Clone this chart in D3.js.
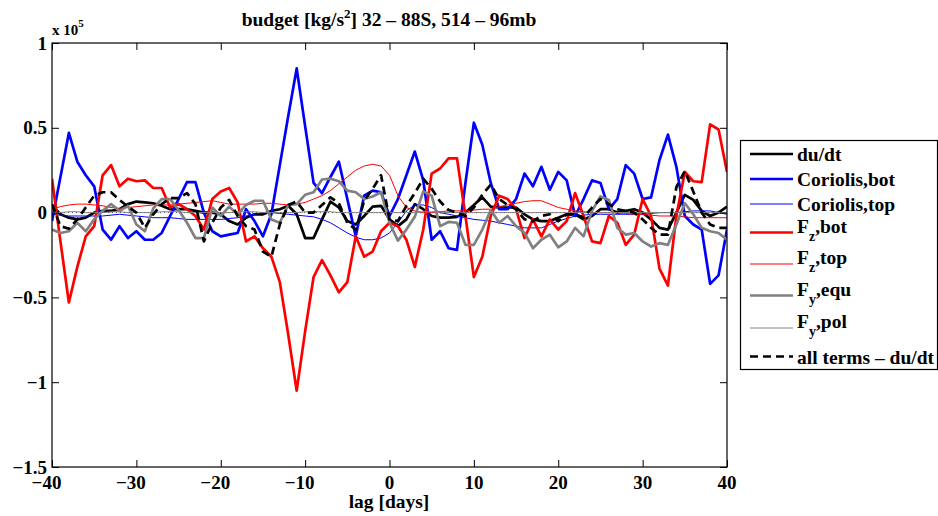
<!DOCTYPE html>
<html><head><meta charset="utf-8">
<script src="https://cdn.jsdelivr.net/npm/d3@7"></script>
<style>body{margin:0;background:#fff}svg{display:block}text{font-family:"Liberation Serif","Times New Roman",serif;font-weight:bold;fill:#000}</style>
</head><body>
<svg id="c" width="938" height="516" font-family="Liberation Serif, serif"></svg>
<script>
const lags = d3.range(-40, 41);
const xTicks = [-40,-30,-20,-10,0,10,20,30,40];
const yTicks = [1,0.5,0,-0.5,-1,-1.5];
const titleText = "budget [kg/s";
const dudt = [0.04,-0.01,-0.03,-0.04,-0.03,0.0,0.01,0.01,0.02,0.05,0.065,0.06,0.055,0.04,0.02,0.02,0.02,0.01,0.0,0.0,-0.01,-0.05,-0.07,-0.03,-0.01,-0.01,0.01,0.02,0.04,-0.01,-0.15,-0.15,-0.04,0.065,0.03,-0.05,-0.07,-0.02,0.035,0.04,-0.04,-0.08,-0.04,0.05,0.02,-0.02,-0.03,-0.03,-0.025,0.0,0.045,0.09,0.035,0.03,0.03,0.03,-0.01,-0.04,-0.05,-0.05,-0.03,-0.01,-0.01,-0.04,-0.02,0.02,0.02,0.0,0.01,0.02,0.0,-0.04,-0.09,-0.10,0.0,0.105,0.075,0.01,-0.02,0.0,0.035];
const corBot = [-0.05,0.21,0.47,0.30,0.22,0.155,-0.10,-0.16,-0.08,-0.15,-0.11,-0.16,-0.16,-0.12,-0.02,0.08,0.18,0.18,0.0,-0.11,-0.14,-0.13,-0.12,0.02,-0.05,-0.14,-0.01,0.28,0.57,0.85,0.51,0.175,0.115,0.21,0.30,0.08,-0.14,0.10,0.13,0.12,-0.02,0.08,0.22,0.36,0.19,-0.16,-0.11,-0.21,-0.22,0.175,0.53,0.40,0.175,0.02,0.02,0.08,0.23,0.155,0.27,0.135,0.24,0.19,-0.02,0.08,0.19,0.175,0.02,0.08,0.28,0.23,0.08,0.09,0.31,0.46,0.27,-0.02,-0.07,-0.10,-0.42,-0.37,-0.10];
const corTop = [-0.01,-0.015,-0.02,-0.02,-0.02,-0.02,-0.02,-0.015,-0.01,-0.015,-0.02,-0.025,-0.03,-0.03,-0.03,-0.035,-0.04,-0.04,-0.04,-0.04,-0.04,-0.035,-0.03,-0.02,-0.01,0.0,0.0,-0.005,-0.01,-0.015,-0.02,-0.025,-0.04,-0.06,-0.09,-0.12,-0.145,-0.16,-0.16,-0.15,-0.12,-0.06,0.01,0.045,0.045,0.03,0.0,-0.01,-0.02,-0.03,-0.04,-0.045,-0.05,-0.06,-0.07,-0.08,-0.09,-0.09,-0.09,-0.07,-0.05,-0.035,-0.02,-0.015,-0.01,-0.01,-0.01,-0.01,-0.01,-0.01,-0.01,-0.005,0.0,0.0,0.0,0.005,0.01,0.01,0.01,0.0,-0.01];
const fzBot = [0.20,-0.17,-0.53,-0.32,-0.14,-0.08,0.22,0.28,0.155,0.20,0.185,0.19,0.145,0.145,0.03,0.05,0.02,-0.02,-0.10,0.08,0.125,0.145,0.06,-0.17,-0.14,-0.21,-0.26,-0.41,-0.72,-1.05,-0.70,-0.38,-0.28,-0.37,-0.47,-0.41,-0.14,-0.26,-0.23,-0.11,-0.06,-0.08,-0.16,-0.32,-0.10,0.23,0.26,0.32,0.32,-0.02,-0.38,-0.26,-0.02,0.10,0.08,0.02,-0.15,-0.04,-0.14,-0.04,-0.10,-0.05,0.115,-0.02,-0.17,-0.18,-0.02,-0.06,-0.19,-0.13,0.08,-0.02,-0.33,-0.43,-0.02,0.24,0.185,0.18,0.52,0.49,0.24];
const fzTop = [0.02,0.035,0.045,0.05,0.05,0.045,0.04,0.03,0.025,0.03,0.035,0.04,0.045,0.045,0.045,0.05,0.055,0.06,0.065,0.07,0.06,0.05,0.05,0.05,0.05,0.055,0.055,0.05,0.045,0.05,0.06,0.08,0.10,0.13,0.17,0.21,0.25,0.275,0.285,0.275,0.22,0.10,0.03,0.01,0.0,0.0,0.005,0.01,0.01,0.01,0.015,0.02,0.02,0.035,0.045,0.055,0.065,0.07,0.07,0.05,0.03,0.02,0.01,0.005,0.0,0.0,0.0,0.0,-0.005,-0.01,-0.01,-0.015,-0.02,-0.02,-0.02,-0.025,-0.03,-0.03,-0.03,-0.03,-0.03];
const fyEqu = [-0.10,-0.12,-0.11,-0.06,-0.11,-0.04,0.01,0.05,0.01,0.04,-0.07,-0.11,0.025,0.08,0.08,0.015,-0.06,-0.15,-0.15,0.03,-0.02,0.035,-0.01,0.045,0.07,0.07,-0.04,-0.06,0.045,0.05,0.105,0.12,0.195,0.2,0.185,0.13,0.12,0.08,0.095,0.12,-0.06,-0.165,-0.10,-0.025,0.125,0.10,-0.08,-0.055,-0.06,-0.19,-0.19,-0.10,0.015,-0.06,-0.02,-0.08,-0.12,-0.21,-0.16,-0.13,-0.205,-0.17,-0.09,-0.14,0.01,0.095,0.075,-0.09,-0.13,-0.12,-0.17,-0.20,-0.18,-0.19,-0.07,0.055,-0.01,-0.09,-0.11,-0.12,-0.16];
const fyPol = [0.0,0.0,0.005,0.005,0.0,0.0,0.0,0.005,0.005,0.0,0.0,0.0,0.0,0.005,0.005,0.005,0.0,0.0,0.0,0.0,0.0,0.0,0.005,0.005,0.005,0.0,0.0,0.0,0.0,0.0,0.005,0.005,0.005,0.005,0.0,0.0,0.0,0.0,0.0,0.0,0.0,0.0,0.0,0.0,0.005,0.005,0.005,0.0,0.0,0.0,0.0,0.0,0.0,0.0,0.0,0.0,0.0,0.0,0.0,0.0,0.0,0.0,0.0,0.0,0.0,0.0,0.0,0.0,0.0,0.0,0.0,0.0,0.0,0.0,0.0,0.0,0.0,0.0,0.0,0.0,0.0];
const allTerms = [0.05,-0.08,-0.095,-0.04,0.03,0.10,0.12,0.12,0.075,0.035,0.0,-0.09,-0.01,0.05,0.085,0.085,0.115,0.05,-0.17,-0.06,0.03,0.075,-0.02,-0.08,-0.10,-0.23,-0.26,-0.07,0.045,0.065,0.0,0.0,0.045,0.09,0.055,-0.06,-0.10,0.07,0.14,0.22,-0.04,-0.05,0.04,0.115,0.2,0.14,0.065,0.015,0.0,-0.02,0.03,0.105,0.165,0.08,0.045,0.02,-0.04,-0.05,-0.02,-0.01,-0.05,-0.01,-0.01,-0.03,0.03,0.08,0.05,0.02,0.01,0.0,-0.04,-0.09,-0.13,-0.13,0.15,0.245,0.125,0.0,-0.07,-0.09,-0.09];

const series = [
  {name:"du/dt", sub:null, rest:null, values:dudt, color:"#000", w:2.7, dash:null},
  {name:"Coriolis,bot", sub:null, rest:null, values:corBot, color:"#0000ff", w:2.7, dash:null},
  {name:"Coriolis,top", sub:null, rest:null, values:corTop, color:"#0000ff", w:1, dash:null},
  {name:"F", sub:"z", rest:",bot", values:fzBot, color:"#ff0000", w:2.7, dash:null},
  {name:"F", sub:"z", rest:",top", values:fzTop, color:"#ff0000", w:1, dash:null},
  {name:"F", sub:"y", rest:",equ", values:fyEqu, color:"#808080", w:2.7, dash:null},
  {name:"F", sub:"y", rest:",pol", values:fyPol, color:"#808080", w:1, dash:null},
  {name:"all terms \u2013 du/dt", sub:null, rest:null, values:allTerms, color:"#000", w:2.7, dash:"8,5"}
];

const FF = "Liberation Serif, Times New Roman, serif";
const svg = d3.select("#c");
const L=52, R=727, T=43, B=467;
const x = d3.scaleLinear().domain([-40,40]).range([L,R]);
const y = d3.scaleLinear().domain([-1.5,1]).range([B,T]);

svg.append("defs").append("clipPath").attr("id","clip").append("rect")
  .attr("x",L).attr("y",T).attr("width",R-L).attr("height",B-T);

const fmt = v => (v<0?"\u2212":"") + String(Math.abs(v));

// zero reference (dotted)
svg.append("line").attr("x1",L).attr("x2",R).attr("y1",y(0)).attr("y2",y(0))
  .attr("stroke","#000").attr("stroke-width",0.7).attr("stroke-dasharray","1,3");

const g = svg.append("g").attr("clip-path","url(#clip)");
const line = d3.line().x((d,i)=>x(lags[i])).y(d=>y(d));
series.forEach(s=>{
  g.append("path").attr("d",line(s.values)).attr("fill","none")
   .attr("stroke",s.color).attr("stroke-width",s.w)
   .attr("stroke-linejoin","round")
   .attr("stroke-dasharray",s.dash);
});

// axes (MATLAB box style, inward ticks)
const tl=7;
svg.append("g").attr("transform",`translate(0,${B})`)
  .call(d3.axisBottom(x).tickValues(xTicks).tickSize(-tl).tickFormat(""))
  .call(a=>a.select(".domain").remove());
svg.append("g").attr("transform",`translate(0,${T})`)
  .call(d3.axisTop(x).tickValues(xTicks).tickSize(-tl).tickFormat(""))
  .call(a=>a.select(".domain").remove());
svg.append("g").attr("transform",`translate(${L},0)`)
  .call(d3.axisLeft(y).tickValues(yTicks).tickSize(-tl).tickFormat(""))
  .call(a=>a.select(".domain").remove());
svg.append("g").attr("transform",`translate(${R},0)`)
  .call(d3.axisRight(y).tickValues(yTicks).tickSize(-tl).tickFormat(""))
  .call(a=>a.select(".domain").remove());
svg.selectAll(".tick line").attr("stroke","#000").attr("stroke-width",1);
svg.append("rect").attr("x",L).attr("y",T).attr("width",R-L).attr("height",B-T)
  .attr("fill","none").attr("stroke","#000").attr("stroke-width",1.2);

// tick labels (digits centred on tick, minus hanging left as in MATLAB)
svg.selectAll(".xl").data(xTicks).enter().append("text")
  .attr("x",d=>x(d) - (d<0?5.5:0)).attr("y",489).attr("text-anchor","middle")
  .attr("font-family",FF).attr("font-weight","bold")
  .attr("font-size",19).text(fmt);
svg.selectAll(".yl").data(yTicks).enter().append("text")
  .attr("x",47).attr("y",d=>y(d)+6.5).attr("text-anchor","end")
  .attr("font-family",FF).attr("font-weight","bold")
  .attr("font-size",19).text(fmt);

// exponent
const ex = svg.append("text").attr("x",52).attr("y",35).attr("font-size",15)
  .attr("font-family",FF).attr("font-weight","bold");
ex.append("tspan").text("x 10");
ex.append("tspan").attr("dy",-8).attr("font-size",11).text("5");

// title
const tt = svg.append("text").attr("x",389).attr("y",26).attr("text-anchor","middle").attr("font-size",19.5)
  .attr("font-family",FF).attr("font-weight","bold");
tt.append("tspan").text(titleText);
tt.append("tspan").attr("dy",-8).attr("font-size",13).text("2");
tt.append("tspan").attr("dy",8).text("] 32 \u2013 88S, 514 \u2013 96mb");

// x label
svg.append("text").attr("x",389).attr("y",508).attr("text-anchor","middle")
  .attr("font-family",FF).attr("font-weight","bold")
  .attr("font-size",19.5).text("lag [days]");

// legend
svg.append("rect").attr("x",740.5).attr("y",140.5).attr("width",197).attr("height",229)
  .attr("fill","#fff").attr("stroke","#000").attr("stroke-width",1.2);
const rowY = [154,179,204,232.5,264,295.5,328,356.5];
series.forEach((s,i)=>{
  const yy=rowY[i];
  svg.append("line").attr("x1",750).attr("x2",793).attr("y1",yy).attr("y2",yy)
    .attr("stroke",s.color).attr("stroke-width",s.w).attr("stroke-dasharray",s.dash);
  if(s.sub){
    const t = svg.append("text").attr("x",797).attr("y",yy).attr("font-size",19.5)
      .attr("font-family",FF).attr("font-weight","bold");
    t.append("tspan").text(s.name);
    t.append("tspan").attr("dy",8).attr("font-size",14).text(s.sub);
    t.append("tspan").attr("dy",-8).text(s.rest);
  } else {
    svg.append("text").attr("x",797).attr("y",yy+7).attr("font-size",19.5)
      .attr("font-family",FF).attr("font-weight","bold").text(s.name);
  }
});
</script>
</body></html>
